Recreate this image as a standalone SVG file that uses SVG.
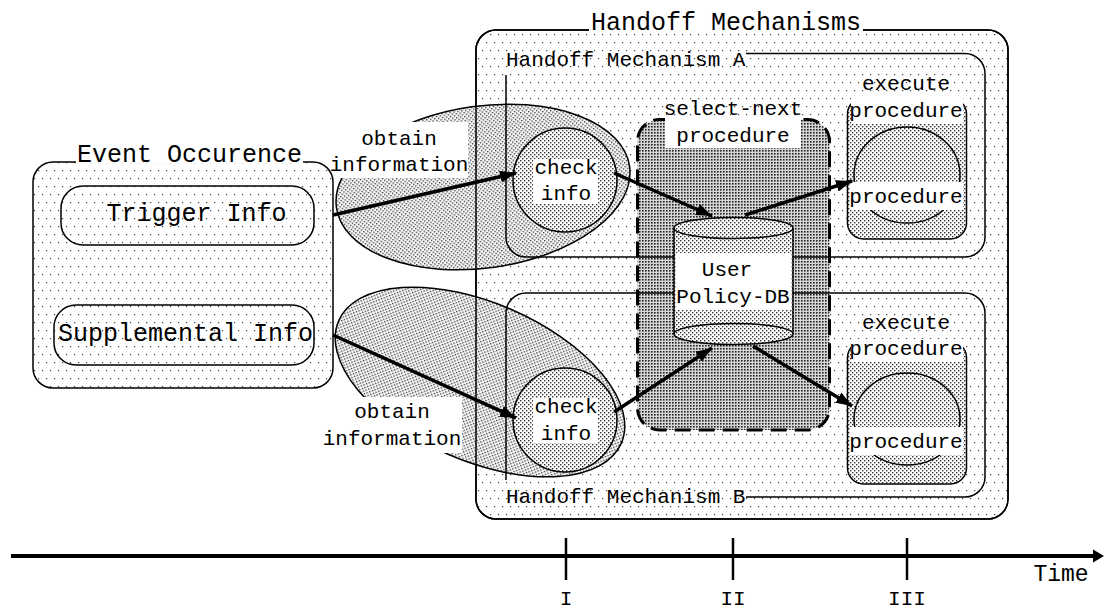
<svg xmlns="http://www.w3.org/2000/svg" width="1104" height="610" viewBox="0 0 1104 610">
<defs>
<pattern id="sparse" width="8" height="16" patternUnits="userSpaceOnUse"><rect width="8" height="16" fill="#fff"/><rect x="2" y="2" width="1.2" height="1.2" fill="#444"/><rect x="6" y="10" width="1.2" height="1.2" fill="#444"/></pattern>
<pattern id="med" width="4" height="4" patternUnits="userSpaceOnUse"><rect width="4" height="4" fill="#fff"/><rect x="0" y="0" width="1.4" height="1.4" fill="#333"/><rect x="2" y="2" width="1.4" height="1.4" fill="#333"/></pattern>
<pattern id="dark" width="3" height="3" patternUnits="userSpaceOnUse"><rect width="3" height="3" fill="#d6d6d6"/><rect width="1.6" height="1.6" fill="#222"/></pattern>
<marker id="ah" markerUnits="userSpaceOnUse" markerWidth="18" markerHeight="14" refX="16" refY="7" orient="auto"><path d="M0,1 L16,7 L0,13 z" fill="#000"/></marker>
<style>
.t{font-family:"Liberation Mono","Courier New",monospace;fill:#000}
.big{font-size:25px}
.sm{font-size:21px}
.mid{text-anchor:middle}
.ln{fill:none;stroke:#000;stroke-width:1.5}
.sp{fill:url(#sparse);stroke:#000;stroke-width:1.5}
.md{fill:url(#med);stroke:#000;stroke-width:1.5}
.bg{fill:#fff}
.arr{stroke:#000;stroke-width:3.5;fill:none;marker-end:url(#ah)}
</style>
</defs>

<g id="handoff-mechanisms">
<rect class="sp" x="476" y="30" width="532" height="489" rx="20"/>
</g>

<g id="event-occurence">
<rect class="sp" x="33" y="162" width="300" height="226" rx="20"/>
<rect class="bg" x="76" y="140" width="227" height="23"/>
<text class="t big mid" x="189.5" y="162">Event Occurence</text>
</g>
<g id="trigger-info">
<rect class="sp" x="61" y="186" width="253" height="59" rx="22"/>
<text class="t big mid" x="196.5" y="221">Trigger Info</text>
</g>
<g id="supplemental-info">
<rect class="sp" x="54" y="305" width="260" height="60" rx="22"/>
<text class="t big" x="58" y="341">Supplemental Info</text>
</g>

<g id="obtain-a">
<ellipse class="md" cx="483" cy="187" rx="148" ry="81" transform="rotate(-8 483 187)"/>
</g>
<g id="obtain-b">
<ellipse class="md" cx="480" cy="382" rx="154" ry="79" transform="rotate(23.4 480 382)"/>
</g>

<g id="handoff-mechanisms-frame">
<rect class="ln" x="476" y="30" width="532" height="489" rx="20"/>
<rect class="bg" x="589" y="8" width="274" height="24"/>
<text class="t big mid" x="726" y="30">Handoff Mechanisms</text>
</g>

<g id="select-next">
<rect x="637.5" y="119.5" width="192" height="310.5" rx="22" fill="url(#dark)" stroke="#000" stroke-width="3" stroke-dasharray="16 8"/>
</g>

<g id="mechanism-a">
<path class="ln" d="M746,53.5 H965 A20,20 0 0 1 985,73.5 V237 A20,20 0 0 1 965,257 H526 A20,20 0 0 1 506,237 V75"/>
<text class="t sm" x="506" y="66">Handoff Mechanism A</text>
</g>
<g id="mechanism-b">
<path class="ln" d="M506,480 V313 A20,20 0 0 1 526,293 H965 A20,20 0 0 1 985,313 V477 A20,20 0 0 1 965,497 H746"/>
<text class="t sm" x="506" y="503">Handoff Mechanism B</text>
</g>

<g id="check-a">
<circle class="md" cx="565" cy="180" r="52"/>
<rect class="bg" x="533" y="159" width="65" height="45"/>
<text class="t sm mid" x="566" y="174">check</text>
<text class="t sm mid" x="566" y="200">info</text>
</g>
<g id="check-b">
<circle class="md" cx="565" cy="420" r="52"/>
<rect class="bg" x="533" y="398" width="65" height="45"/>
<text class="t sm mid" x="566" y="413">check</text>
<text class="t sm mid" x="566" y="440">info</text>
</g>

<g id="procedure-a">
<rect class="md" x="847.5" y="98" width="119" height="141" rx="16"/>
<ellipse class="ln" cx="907" cy="175" rx="53" ry="48"/>
<rect class="bg" x="851" y="96" width="112" height="28"/>
<rect class="bg" x="850" y="182" width="113" height="28"/>
<text class="t sm mid" x="906" y="90">execute</text>
<text class="t sm mid" x="906" y="117">procedure</text>
<text class="t sm mid" x="906" y="203">procedure</text>
</g>
<g id="procedure-b">
<rect class="md" x="847.5" y="341.5" width="119" height="142.5" rx="16"/>
<ellipse class="ln" cx="907" cy="419" rx="53" ry="46"/>
<rect class="bg" x="851" y="339" width="112" height="23"/>
<rect class="bg" x="850" y="427" width="113" height="28"/>
<text class="t sm mid" x="906" y="329">execute</text>
<text class="t sm mid" x="906" y="355">procedure</text>
<text class="t sm mid" x="906" y="448">procedure</text>
</g>

<g id="select-next-label">
<rect class="bg" x="665" y="118" width="136" height="30"/>
<text class="t sm mid" x="733" y="115">select-next</text>
<text class="t sm mid" x="733" y="142">procedure</text>
</g>

<g id="user-policy-db">
<rect x="674" y="228" width="119" height="106" fill="url(#med)"/>
<line class="ln" x1="674" y1="228" x2="674" y2="334"/>
<line class="ln" x1="793" y1="228" x2="793" y2="334"/>
<ellipse class="md" cx="733.5" cy="334" rx="59.5" ry="10.5"/>
<ellipse class="md" cx="733.5" cy="228" rx="59.5" ry="10.5"/>
<rect class="bg" x="676" y="253" width="115" height="57"/>
<text class="t sm mid" x="727" y="276">User</text>
<text class="t sm mid" x="733" y="303">Policy-DB</text>
</g>

<g id="obtain-labels">
<rect class="bg" x="334" y="122" width="134" height="56"/>
<text class="t sm mid" x="399" y="145">obtain</text>
<text class="t sm mid" x="399" y="171">information</text>
<rect class="bg" x="322" y="397" width="140" height="56"/>
<text class="t sm mid" x="392" y="418">obtain</text>
<text class="t sm mid" x="392" y="445">information</text>
</g>

<g id="connectors">
<line class="arr" x1="333" y1="215" x2="516" y2="173"/>
<line class="arr" x1="333" y1="335" x2="516" y2="418"/>
<line class="arr" x1="614" y1="173" x2="712" y2="216"/>
<line class="arr" x1="745" y1="215" x2="852" y2="181"/>
<line class="arr" x1="614" y1="412" x2="712" y2="348"/>
<line class="arr" x1="753" y1="346" x2="852" y2="406"/>
</g>

<g id="timeline">
<line x1="11" y1="556" x2="1096" y2="556" stroke="#000" stroke-width="4"/>
<path d="M1093,549.5 L1104,556 L1093,562.5 z" fill="#000"/>
<line x1="566" y1="538" x2="566" y2="580" stroke="#000" stroke-width="2.5"/>
<line x1="733" y1="538" x2="733" y2="580" stroke="#000" stroke-width="2.5"/>
<line x1="907" y1="538" x2="907" y2="580" stroke="#000" stroke-width="2.5"/>
<text class="t mid" style="font-size:23px" x="1061" y="581">Time</text>
<text class="t sm mid" x="566" y="605">I</text>
<text class="t sm mid" x="733" y="605">II</text>
<text class="t sm mid" x="907" y="605">III</text>
</g>
</svg>
